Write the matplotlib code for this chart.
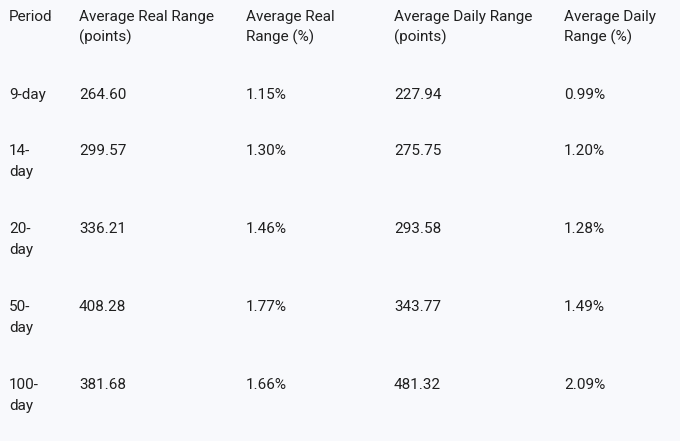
import matplotlib.pyplot as plt

plt.rcParams['font.family'] = ['Roboto', 'DejaVu Sans']

headers = [["Period"], ["Average Real Range", "(points)"], ["Average Real", "Range (%)"],
           ["Average Daily Range", "(points)"], ["Average Daily", "Range (%)"]]
periods = ["9-day", "14-day", "20-day", "50-day", "100-day"]
real_points = [264.60, 299.57, 336.21, 408.28, 381.68]
real_pct = [1.15, 1.30, 1.46, 1.77, 1.66]
daily_points = [227.94, 275.75, 293.58, 343.77, 481.32]
daily_pct = [0.99, 1.20, 1.28, 1.49, 2.09]

W, H = 680, 441
col_x = [9, 79, 246, 394, 564]
row_base = [99, 155, 233, 311, 389]  # baselines in pixels from top
line_gap = 21
bg = '#f8f9fc'
fg = '#1f1f1f'
fs = 11

fig = plt.figure(figsize=(W / 100, H / 100), dpi=100, facecolor=bg)


def put(x, y, s):
    fig.text(x / W, 1 - y / H, s, fontsize=fs, color=fg, ha='left', va='baseline')


def wrap_period(p):
    # narrow first column: long labels break after the hyphen
    if len(p) > 5:
        a, b = p.split('-', 1)
        return [a + '-', b]
    return [p]


for c, lines in enumerate(headers):
    for k, s in enumerate(lines):
        put(col_x[c], 21 + k * line_gap, s)

for i, p in enumerate(periods):
    yb = row_base[i]
    for k, s in enumerate(wrap_period(p)):
        put(col_x[0], yb + k * line_gap, s)
    put(col_x[1], yb, f"{real_points[i]:.2f}")
    put(col_x[2], yb, f"{real_pct[i]:.2f}%")
    put(col_x[3], yb, f"{daily_points[i]:.2f}")
    put(col_x[4], yb, f"{daily_pct[i]:.2f}%")

fig.savefig('out.png', dpi=100, facecolor=bg)
